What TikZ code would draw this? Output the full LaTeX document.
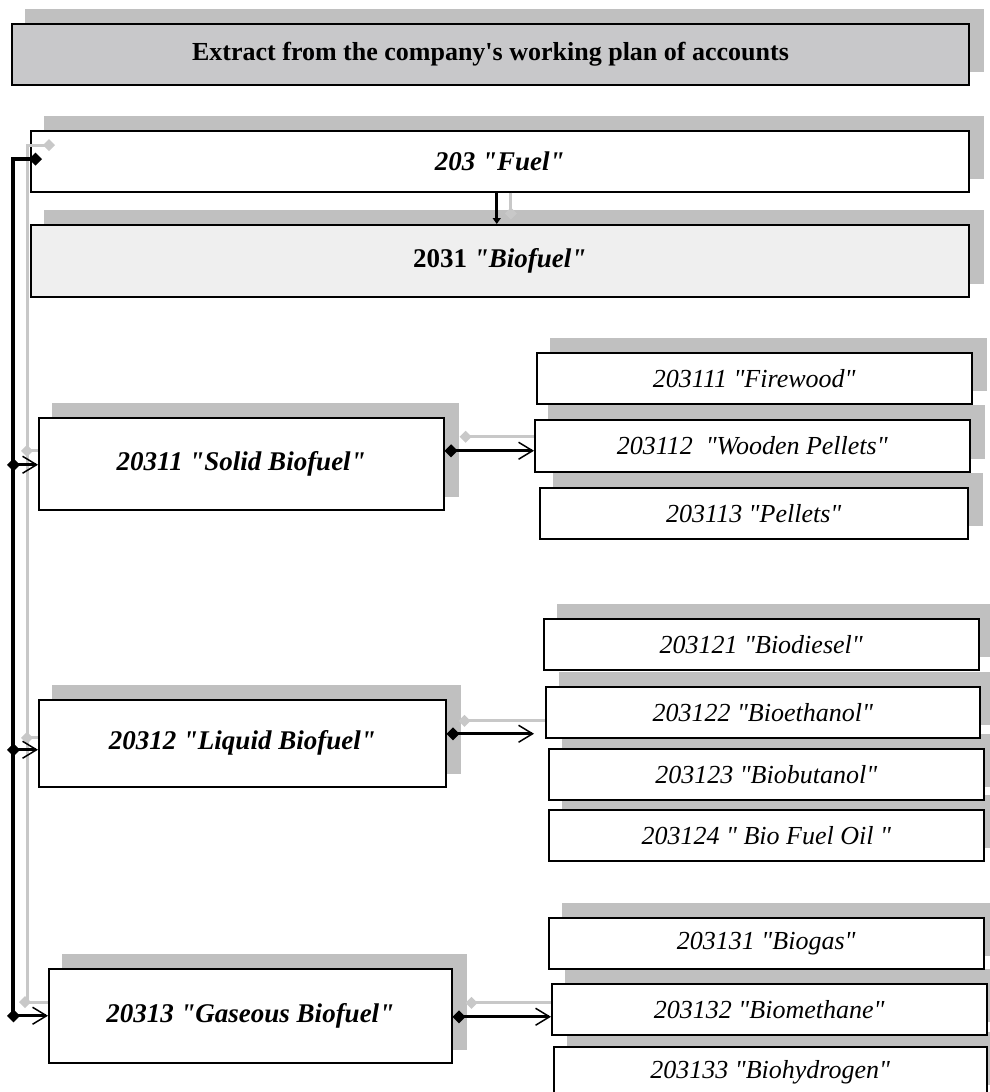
\documentclass[tikz,border=0pt]{standalone}
\usepackage{fontspec}
\setmainfont[Ligatures=TeXOff]{Liberation Serif}
\usetikzlibrary{arrows.meta,calc,backgrounds}
\definecolor{shadowc}{RGB}{192,192,192}
\definecolor{gcol}{RGB}{200,200,200}
\definecolor{titlec}{RGB}{200,200,202}
\definecolor{biofc}{RGB}{239,239,239}
\begin{document}
\begin{tikzpicture}[x=1pt,y=-1pt,
  box/.style={draw=black,line width=1.5pt,fill=white,inner sep=0pt,anchor=north west,align=center},
  mainbox/.style={box,font=\fontsize{27}{32}\selectfont\bfseries\itshape},
  subbox/.style={box,font=\fontsize{26}{31}\selectfont\itshape},
  blk/.style={draw=black,line width=3.2pt},
  gry/.style={draw=gcol,line width=3pt},
  dia/.style={{Diamond[length=13pt,width=13pt]}-{Straight Barb[length=14pt,width=17pt,line width=1.5pt]}},
  gdia/.style={{Diamond[length=12pt,width=12pt]}-}
]
\useasboundingbox (0,0) rectangle (989,1092);
\clip (0,0) rectangle (989,1092);

% boxes
\node[box,fill=titlec,line width=2pt,minimum width=957pt,minimum height=61pt,
  font=\fontsize{26}{31}\selectfont\bfseries] (title) at (11,23)
  {Extract from the company's working plan of accounts};
\node[mainbox,minimum width=938pt,minimum height=61pt] (fuel) at (30,130) {203 "Fuel"};
\node[box,fill=biofc,minimum width=938pt,minimum height=72pt,
  font=\fontsize{27}{32}\selectfont\bfseries] (biofuel) at (30,224) {2031 \textit{"Biofuel"}};
\node[mainbox,minimum width=405pt,minimum height=92pt] (solid) at (38,417) {20311 "Solid Biofuel"};
\node[mainbox,minimum width=407pt,minimum height=87pt] (liquid) at (38,699) {20312 "Liquid Biofuel"};
\node[mainbox,minimum width=403pt,minimum height=94pt] (gas) at (48,968) {20313 "Gaseous Biofuel"};

\node[subbox,minimum width=435pt,minimum height=51pt] (c1) at (536,352) {203111 "Firewood"};
\node[subbox,minimum width=435pt,minimum height=52pt] (c2) at (534,419) {203112\ \ "Wooden Pellets"};
\node[subbox,minimum width=428pt,minimum height=51pt] (c3) at (539,487) {203113 "Pellets"};

\node[subbox,minimum width=435pt,minimum height=51pt] (d1) at (543,618) {203121 "Biodiesel"};
\node[subbox,minimum width=434pt,minimum height=51pt] (d2) at (545,686) {203122 "Bioethanol"};
\node[subbox,minimum width=435pt,minimum height=51pt] (d3) at (548,748) {203123 "Biobutanol"};
\node[subbox,minimum width=435pt,minimum height=51pt] (d4) at (548,809) {203124 " Bio Fuel Oil "};

\node[subbox,minimum width=435pt,minimum height=51pt] (e1) at (548,917) {203131 "Biogas"};
\node[subbox,minimum width=435pt,minimum height=51pt] (e2) at (551,983) {203132 "Biomethane"};
\node[subbox,minimum width=433pt,minimum height=51pt] (e3) at (553,1046) {203133 "Biohydrogen"};

% shadows
\begin{pgfonlayer}{background}
\foreach \n in {title,fuel,biofuel,solid,liquid,gas,c1,c2,c3,d1,d2,d3,d4,e1,e2,e3}
  \fill[shadowc] ($(\n.north west)+(14,-14)$) rectangle ($(\n.south east)+(14,-14)$);
\end{pgfonlayer}

% trunk coordinates
\coordinate (tk) at (13,159);
\coordinate (gk) at (27,145);
\coordinate (gb) at (27,1002);

% grey shadow connectors
\draw[gry,gdia] ($(fuel.west|-gk)+(25,0)$) -- (gk) -- (gb) -- (gb -| gas.west);
\draw[gry,gdia] ($(gk|-solid.west)+(-6,-13)$) -- ($(solid.west)+(0,-13)$);
\draw[gry,gdia] ($(gk|-liquid.west)+(-6,-5.5)$) -- ($(liquid.west)+(0,-5.5)$);
\draw[gry,gdia] ($(gb)+(-8,0)$) -- ($(gb)+(4,0)$);
\draw[gry,gdia] ($(solid.east)+(15,-27)$) -- ($(solid.east -| c2.west)+(0,-27)$);
\draw[gry,gdia] ($(liquid.east)+(12,-22.5)$) -- ($(liquid.east -| d2.west)+(0,-22.5)$);
\draw[gry,gdia] ($(gas.east)+(13,-13)$) -- ($(gas.east -| e2.west)+(0,-13)$);
\draw[gry,-{Diamond[length=12pt,width=12pt]}] ($(fuel.south)+(11,0)$) -- ($(fuel.south)+(11,27)$);

% black connectors
\draw[blk,{Diamond[length=13pt,width=13pt]}-] ($(fuel.west|-tk)+(12,0)$) -- (tk) -- (tk |- gas.west);
\draw[blk,dia] ($(tk|-solid.west)+(-6,1)$) -- ($(solid.west)+(0,1)$);
\draw[blk,dia] ($(tk|-liquid.west)+(-6,6.5)$) -- ($(liquid.west)+(0,6.5)$);
\draw[blk,dia] ($(tk|-gas.west)+(-6,0)$) -- (gas.west);
\draw[blk,dia] ($(solid.east)+(0,-13)$) -- ($(solid.east -| c2.west)+(0,-13)$);
\draw[blk,dia] ($(liquid.east)+(0,-9.5)$) -- ($(liquid.east -| d2.west)+(-11,-9.5)$);
\draw[blk,dia] ($(gas.east)+(0,1)$) -- ($(gas.east -| e2.west)+(0,1)$);
\draw[blk,-{Triangle[length=6pt,width=8pt]}] ($(fuel.south)+(-3,0)$) -- ($(biofuel.north)+(-3,0)$);
\end{tikzpicture}
\end{document}
